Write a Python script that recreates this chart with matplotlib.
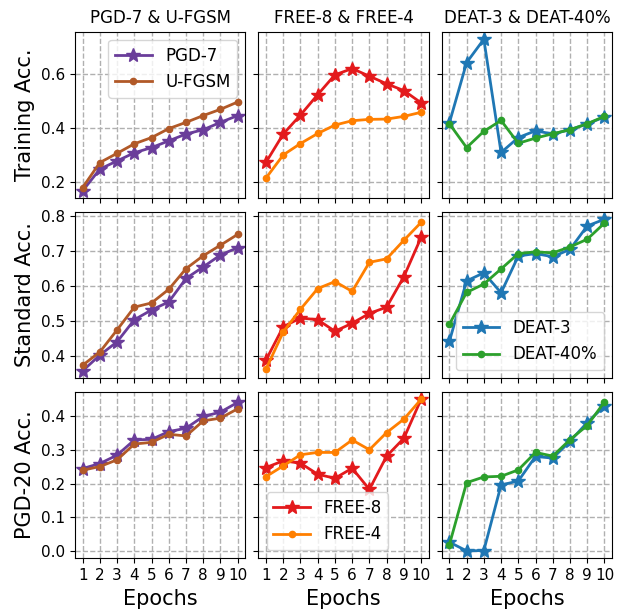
import numpy as np
import matplotlib
matplotlib.use('Agg')
import matplotlib.pyplot as plt

epochs = list(range(1, 11))

# training accuracy
train_pgd7 = [0.169, 0.249, 0.279, 0.309, 0.328, 0.353, 0.378, 0.394, 0.421, 0.446]
train_ufgsm = [0.181, 0.273, 0.307, 0.342, 0.365, 0.398, 0.421, 0.446, 0.469, 0.496]
train_free8 = [0.274, 0.378, 0.448, 0.523, 0.596, 0.619, 0.591, 0.563, 0.538, 0.493]
train_free4 = [0.216, 0.301, 0.343, 0.380, 0.411, 0.427, 0.432, 0.433, 0.443, 0.458]
train_deat3 = [0.419, 0.641, 0.727, 0.310, 0.365, 0.390, 0.378, 0.394, 0.415, 0.441]
train_deat40 = [0.416, 0.328, 0.388, 0.428, 0.344, 0.363, 0.379, 0.394, 0.416, 0.443]

# standard accuracy
std_pgd7 = [0.357, 0.402, 0.440, 0.503, 0.531, 0.554, 0.621, 0.654, 0.688, 0.709]
std_ufgsm = [0.373, 0.411, 0.474, 0.539, 0.551, 0.590, 0.649, 0.686, 0.716, 0.747]
std_free8 = [0.388, 0.483, 0.508, 0.503, 0.470, 0.493, 0.521, 0.539, 0.626, 0.738]
std_free4 = [0.362, 0.468, 0.533, 0.592, 0.612, 0.584, 0.667, 0.677, 0.730, 0.781]
std_deat3 = [0.441, 0.614, 0.637, 0.580, 0.685, 0.692, 0.683, 0.704, 0.771, 0.790]
std_deat40 = [0.490, 0.581, 0.605, 0.648, 0.692, 0.697, 0.694, 0.711, 0.733, 0.779]

# PGD-20 accuracy
pgd_pgd7 = [0.245, 0.260, 0.285, 0.330, 0.332, 0.355, 0.365, 0.400, 0.413, 0.442]
pgd_ufgsm = [0.240, 0.251, 0.271, 0.318, 0.323, 0.347, 0.342, 0.387, 0.395, 0.423]
pgd_free8 = [0.248, 0.268, 0.261, 0.228, 0.216, 0.246, 0.183, 0.282, 0.335, 0.451]
pgd_free4 = [0.221, 0.253, 0.286, 0.293, 0.293, 0.330, 0.301, 0.352, 0.392, 0.451]
pgd_deat3 = [0.026, 0.000, 0.001, 0.196, 0.208, 0.281, 0.276, 0.326, 0.382, 0.431]
pgd_deat40 = [0.018, 0.203, 0.220, 0.222, 0.241, 0.293, 0.282, 0.331, 0.373, 0.443]

titles = ['PGD-7 & U-FGSM', 'FREE-8 & FREE-4', 'DEAT-3 & DEAT-40%']
row_labels = ['Training Acc.', 'Standard Acc.', 'PGD-20 Acc.']

data = [
    [(train_pgd7, train_ufgsm), (train_free8, train_free4), (train_deat3, train_deat40)],
    [(std_pgd7, std_ufgsm), (std_free8, std_free4), (std_deat3, std_deat40)],
    [(pgd_pgd7, pgd_ufgsm), (pgd_free8, pgd_free4), (pgd_deat3, pgd_deat40)],
]
names = [('PGD-7', 'U-FGSM'), ('FREE-8', 'FREE-4'), ('DEAT-3', 'DEAT-40%')]
colors = [('#6a3d9a', '#b15928'), ('#e31a1c', '#ff7f00'), ('#1f77b4', '#2ca02c')]

fig, axes = plt.subplots(3, 3, figsize=(6.19, 6.09), dpi=100, sharex=True, sharey='row')
plt.subplots_adjust(left=0.121, right=0.989, top=0.948, bottom=0.083, wspace=0.075, hspace=0.08)

for r in range(3):
    for c in range(3):
        ax = axes[r, c]
        a, b = data[r][c]
        ax.plot(epochs, a, color=colors[c][0], marker='*', markersize=10, linewidth=2, label=names[c][0])
        ax.plot(epochs, b, color=colors[c][1], marker='o', markersize=4.5, linewidth=2, label=names[c][1])
        ax.grid(True, linestyle='--', color='#b0b0b0', linewidth=1)
        ax.set_xticks(epochs)
        ax.tick_params(labelsize=11)
        if r == 0:
            ax.set_title(titles[c], fontsize=12)
        if r == 2:
            ax.set_xlabel('Epochs', fontsize=15)
        if c == 0:
            ax.set_ylabel(row_labels[r], fontsize=15)

axes[0, 0].set_yticks([0.2, 0.4, 0.6])
axes[1, 0].set_yticks([0.4, 0.5, 0.6, 0.7, 0.8])
axes[2, 0].set_yticks([0.0, 0.1, 0.2, 0.3, 0.4])

axes[0, 0].legend(loc='upper right', fontsize=12, handlelength=2.2)
axes[1, 2].legend(loc='lower right', fontsize=12, handlelength=2.2)
axes[2, 1].legend(loc='lower left', fontsize=12, handlelength=2.2)

plt.savefig('out.png', dpi=100)
